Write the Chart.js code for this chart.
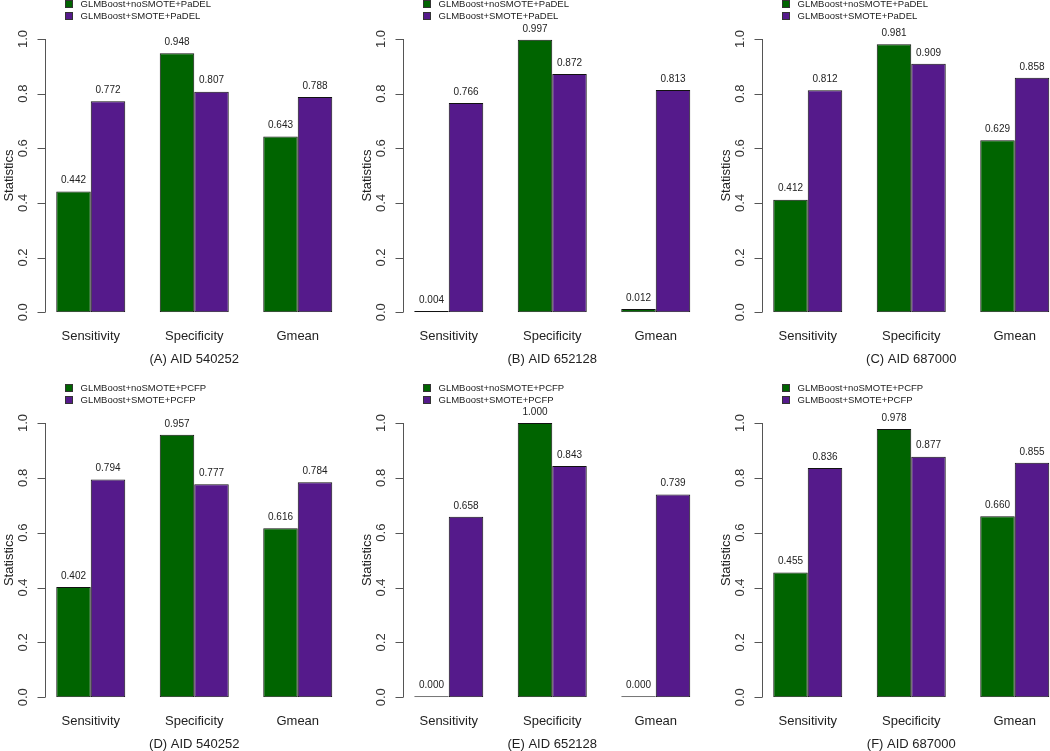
<!DOCTYPE html>
<html>
<head>
<meta charset="utf-8">
<title>GLMBoost statistics</title>
<script src="https://cdn.jsdelivr.net/npm/chart.js@4.4.0/dist/chart.umd.min.js"></script>
<style>
  html, body { margin: 0; padding: 0; background: #fff; width: 1050px; height: 751px; overflow: hidden; position: relative; }
  canvas { position: absolute; }
</style>
</head>
<body>
<canvas id="chartA" width="350" height="369" style="left:1px;top:0px"></canvas>
<canvas id="chartB" width="350" height="369" style="left:359px;top:0px"></canvas>
<canvas id="chartC" width="350" height="369" style="left:718px;top:0px"></canvas>
<canvas id="chartD" width="350" height="370" style="left:1px;top:384px"></canvas>
<canvas id="chartE" width="350" height="370" style="left:359px;top:384px"></canvas>
<canvas id="chartF" width="350" height="370" style="left:718px;top:384px"></canvas>
<script>
// Categories and tick labels
const categories = ['Sensitivity', 'Specificity', 'Gmean'];
const yTicks = [0, 0.2, 0.4, 0.6, 0.8, 1.0];
const panelTitles = ['(A) AID 540252', '(B) AID 652128', '(C) AID 687000',
                     '(D) AID 540252', '(E) AID 652128', '(F) AID 687000'];
const seriesPaDEL = ['GLMBoost+noSMOTE+PaDEL', 'GLMBoost+SMOTE+PaDEL'];
const seriesPCFP = ['GLMBoost+noSMOTE+PCFP', 'GLMBoost+SMOTE+PCFP'];

// Values per panel (noSMOTE, SMOTE)
const noSmoteA = [0.442, 0.948, 0.643];
const smoteA = [0.772, 0.807, 0.788];
const noSmoteB = [0.004, 0.997, 0.012];
const smoteB = [0.766, 0.872, 0.813];
const noSmoteC = [0.412, 0.981, 0.629];
const smoteC = [0.812, 0.909, 0.858];
const noSmoteD = [0.402, 0.957, 0.616];
const smoteD = [0.794, 0.777, 0.784];
const noSmoteE = [0.000, 1.000, 0.000];
const smoteE = [0.658, 0.843, 0.739];
const noSmoteF = [0.455, 0.978, 0.660];
const smoteF = [0.836, 0.877, 0.855];

const GREEN = '#006400';
const PURPLE = '#551a8b';

Chart.defaults.font.family = '"Liberation Sans", Arial, sans-serif';

// R-style y axis: line from 0 to 1, outward ticks, rotated labels
const rAxisPlugin = {
  id: 'rAxis',
  afterDraw(chart) {
    const ctx = chart.ctx;
    const y = chart.scales.y;
    const bar = chart.getDatasetMeta(0).data[0];
    const axisX = Math.round(bar.x - bar.width / 2 - 0.32 * bar.width) + 0.5;
    const top = y.getPixelForValue(yTicks[yTicks.length - 1]);
    const bottom = y.getPixelForValue(yTicks[0]);
    ctx.save();
    ctx.strokeStyle = '#555';
    ctx.lineWidth = 1;
    ctx.beginPath();
    ctx.moveTo(axisX, top);
    ctx.lineTo(axisX, bottom);
    yTicks.forEach(v => {
      const py = Math.round(y.getPixelForValue(v)) + 0.5;
      ctx.moveTo(axisX - 8, py);
      ctx.lineTo(axisX, py);
    });
    ctx.stroke();
    ctx.fillStyle = '#333';
    ctx.font = '13px "Liberation Sans", Arial, sans-serif';
    ctx.textAlign = 'center';
    ctx.textBaseline = 'middle';
    yTicks.forEach(v => {
      ctx.save();
      ctx.translate(axisX - 22.5, y.getPixelForValue(v));
      ctx.rotate(-Math.PI / 2);
      ctx.fillText(v.toFixed(1), 0, 0);
      ctx.restore();
    });
    ctx.save();
    ctx.translate(axisX - 36, (top + bottom) / 2);
    ctx.rotate(-Math.PI / 2);
    ctx.fillStyle = '#222';
    ctx.fillText('Statistics', 0, 0);
    ctx.restore();

    // legend, stacked, top left
    ctx.font = '9.5px "Liberation Sans", Arial, sans-serif';
    ctx.textAlign = 'left';
    chart.data.datasets.forEach((ds, i) => {
      const cy = 4.5 + i * 12;
      ctx.fillStyle = ds.backgroundColor;
      ctx.fillRect(axisX + 20, cy - 4, 7, 7);
      ctx.strokeStyle = '#333';
      ctx.strokeRect(axisX + 20, cy - 4, 7, 7);
      ctx.fillStyle = '#222';
      ctx.fillText(ds.label, axisX + 35, cy);
    });
    ctx.restore();
  }
};

// Value labels above bars
const valueLabelPlugin = {
  id: 'valueLabels',
  afterDatasetsDraw(chart) {
    const ctx = chart.ctx;
    ctx.save();
    ctx.font = '10px "Liberation Sans", Arial, sans-serif';
    ctx.fillStyle = '#222';
    ctx.textAlign = 'center';
    ctx.textBaseline = 'middle';
    chart.data.datasets.forEach((ds, i) => {
      chart.getDatasetMeta(i).data.forEach((el, j) => {
        ctx.fillText(ds.data[j].toFixed(3), el.x, el.y - 11);
      });
    });
    ctx.restore();
  }
};

function makePanel(id, title, names, noSmote, smote) {
  const ctx = document.getElementById(id).getContext('2d');
  return new Chart(ctx, {
    type: 'bar',
    data: {
      labels: categories,
      datasets: [
        { label: names[0], data: noSmote, backgroundColor: GREEN },
        { label: names[1], data: smote, backgroundColor: PURPLE }
      ]
    },
    options: {
      responsive: false,
      animation: false,
      layout: { padding: { left: 38, right: 1.5, top: 39, bottom: 0 } },
      datasets: {
        bar: {
          categoryPercentage: 2 / 3,
          barPercentage: 1,
          borderColor: '#111',
          borderWidth: 1,
          borderSkipped: false,
          minBarLength: 1
        }
      },
      plugins: {
        legend: { display: false },
        tooltip: { enabled: false }
      },
      scales: {
        x: {
          grid: { display: false, drawTicks: false },
          border: { display: false },
          ticks: { padding: 16, color: '#222', font: { size: 13 } },
          title: {
            display: true,
            text: title,
            color: '#222',
            font: { size: 13 },
            padding: { top: 4, bottom: 2 }
          },
          afterFit(scale) { scale.height = 56.8; }
        },
        y: { display: false, min: 0, max: 1 }
      }
    },
    plugins: [rAxisPlugin, valueLabelPlugin]
  });
}

makePanel('chartA', panelTitles[0], seriesPaDEL, noSmoteA, smoteA);
makePanel('chartB', panelTitles[1], seriesPaDEL, noSmoteB, smoteB);
makePanel('chartC', panelTitles[2], seriesPaDEL, noSmoteC, smoteC);
makePanel('chartD', panelTitles[3], seriesPCFP, noSmoteD, smoteD);
makePanel('chartE', panelTitles[4], seriesPCFP, noSmoteE, smoteE);
makePanel('chartF', panelTitles[5], seriesPCFP, noSmoteF, smoteF);
</script>
</body>
</html>
